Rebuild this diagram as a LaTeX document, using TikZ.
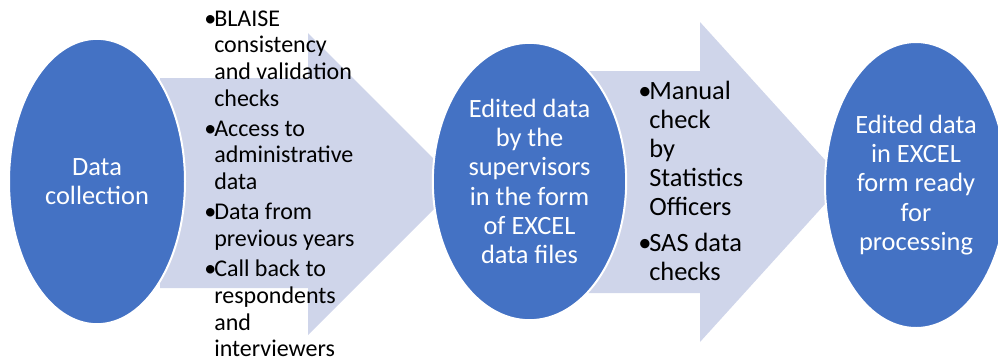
\documentclass[tikz,border=0pt]{standalone}
\usepackage{fontspec}
\setmainfont{Carlito}
\usetikzlibrary{shapes.geometric}

\definecolor{stageblue}{HTML}{4472C4}
\definecolor{arrowfill}{HTML}{CFD5EA}

\tikzset{
  stage/.style={ellipse, fill=stageblue, draw=white, line width=1.5pt, inner sep=0pt,
    text=white, align=center, font=\fontsize{19.8}{21.9}\selectfont},
  checklist/.style={anchor=base west, inner sep=0pt, text=black}
}
\newcommand{\bul}[1]{\makebox[#1][l]{•}}

\begin{document}
\begin{tikzpicture}[x=0.75pt,y=-0.75pt]
    \useasboundingbox (0,0) rectangle (998,362);

    %ARROWS
    \fill[arrowfill] (160,78) -- (308,78) -- (308,33) -- (459,184) -- (308,335) -- (308,288) -- (160,288) -- cycle;
    \fill[arrowfill] (560,71) -- (700,71) -- (700,22) -- (845,182) -- (700,342) -- (700,293) -- (560,293) -- cycle;

    %ELLIPSES
    \node[stage, minimum width=132pt, minimum height=214pt] (collect) at (97,181.5) {Data\\collection};
    \node[stage, minimum width=145pt, minimum height=208pt] (edited) at (529.5,181.5)
        {Edited data\\by the\\supervisors\\in the form\\of EXCEL\\data files};
    \node[stage, minimum width=136.5pt, minimum height=214.5pt] (ready) at (916,185)
        {Edited data\\in EXCEL\\form ready\\for\\processing};

    %CHECKS
    \node[checklist, font=\fontsize{18}{20}\selectfont] (checksone) at (204,26)
        {\begin{tabular}[t]{@{}l@{}l@{}}
         \bul{7.5pt} & BLAISE\\ & consistency\\ & and validation\\ & checks\\[2.7pt]
         \bul{7.5pt} & Access to\\ & administrative\\ & data\\[2.7pt]
         \bul{7.5pt} & Data from\\ & previous years\\[2.7pt]
         \bul{7.5pt} & Call back to\\ & respondents\\ & and\\ & interviewers
         \end{tabular}};
    \node[checklist, font=\fontsize{19.8}{21.75}\selectfont] (checkstwo) at (638,99.3)
        {\begin{tabular}[t]{@{}l@{}l@{}}
         \bul{8.25pt} & Manual\\ & check\\ & by\\ & Statistics\\ & Officers\\[5.5pt]
         \bul{8.25pt} & SAS data\\ & checks
         \end{tabular}};
\end{tikzpicture}
\end{document}
